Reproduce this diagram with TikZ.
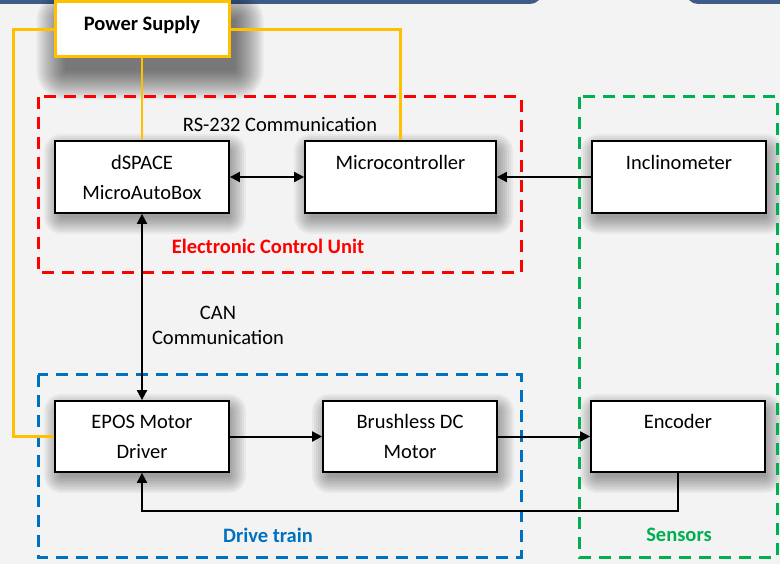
\documentclass[tikz,border=0pt]{standalone}
\usepackage{fontspec}
\setmainfont{Carlito}
\usetikzlibrary{arrows.meta}
\definecolor{psorange}{RGB}{255,192,0}
\definecolor{ecured}{RGB}{255,0,0}
\definecolor{drvblue}{RGB}{0,112,192}
\definecolor{sensgreen}{RGB}{0,176,80}
\definecolor{bandblue}{RGB}{62,92,135}
\definecolor{bggray}{RGB}{243,243,243}
\pgfdeclarelayer{bglayer}
\pgfdeclarelayer{shadowlayer}
\pgfsetlayers{bglayer,shadowlayer,main}
\newcommand\castshadow[4]{%
  \begin{pgfonlayer}{shadowlayer}
  \foreach \rr in {1,3,...,#4}{%
    \fill[black, opacity=0.045, rounded corners=\rr pt]
      ([shift={(#2-\rr+4,#3-\rr+4)}]#1.north west) rectangle ([shift={(#2+\rr-4,#3+\rr-4)}]#1.south east);
  }
  \end{pgfonlayer}}
\tikzset{
  blockbox/.style={draw=black, line width=1.8pt, fill=white, align=center,
    font=\fontsize{20.5}{30}\selectfont, inner sep=0pt},
  psbox/.style={draw=psorange, line width=3pt, fill=white, font=\fontsize{20.5}{25}\selectfont\bfseries,
    inner sep=0pt, text height=15pt, text depth=12pt},
  pwline/.style={draw=psorange, line width=2.6pt},
  arr/.style={draw=black, line width=2pt, -{Triangle[length=10pt,width=10pt]}},
  dblarr/.style={draw=black, line width=2pt, {Triangle[length=10pt,width=10pt]}-{Triangle[length=10pt,width=10pt]}},
  groupbox/.style={line width=3pt, dash pattern=on 12pt off 8pt},
  plaintext/.style={font=\fontsize{20.5}{25}\selectfont, align=center, inner sep=0pt},
  grouptext/.style={font=\fontsize{20.5}{25}\selectfont\bfseries, inner sep=0pt}
}
\begin{document}
\begin{tikzpicture}[x=1pt,y=-1pt]
\useasboundingbox (0,0) rectangle (780,564);
\begin{pgfonlayer}{bglayer}
\fill[bggray] (0,0) rectangle (780,564);
\fill[bandblue, rounded corners=12pt] (-20,-30) rectangle (542,4);
\fill[bandblue, rounded corners=12pt] (686,-30) rectangle (800,4);
\end{pgfonlayer}
% group frames
\draw[groupbox, ecured] (38,97) rectangle (521,273);
\draw[groupbox, sensgreen] (579,97) rectangle (777,557);
\draw[groupbox, drvblue] (38,375) rectangle (521,557);
% blocks
\node[psbox, minimum width=174pt, minimum height=55pt] (ps) at (142,29.5) {Power Supply};
\node[blockbox, minimum width=174pt, minimum height=72pt] (dspace) at (142,177) {dSPACE\\MicroAutoBox};
\node[blockbox, minimum width=191pt, minimum height=72pt] (micro) at (400.5,177) {Microcontroller\\\mbox{}};
\node[blockbox, minimum width=174pt, minimum height=72pt] (incl) at (679,177) {Inclinometer\\\mbox{}};
\node[blockbox, minimum width=174pt, minimum height=71pt] (epos) at (142,436.5) {EPOS Motor\\Driver};
\node[blockbox, minimum width=174pt, minimum height=71pt] (bldc) at (410,436.5) {Brushless DC\\Motor};
\node[blockbox, minimum width=174pt, minimum height=71pt] (enc) at (678,436.5) {Encoder\\\mbox{}};
% shadows
\castshadow{ps}{8}{16}{29}
\castshadow{dspace}{3}{7}{17}
\castshadow{micro}{3}{7}{17}
\castshadow{incl}{3}{7}{17}
\castshadow{epos}{3}{7}{17}
\castshadow{bldc}{3}{7}{17}
\castshadow{enc}{3}{7}{17}
% power lines
\draw[pwline] (ps.west) -- ++(-40,0) |- (epos.west);
\draw[pwline] (ps.south) -- (dspace.north);
\draw[pwline] (ps.east) -| (micro.north);
% signal connectors
\draw[dblarr] (dspace.east) -- (micro.west);
\draw[arr] (incl.west) -- (micro.east);
\draw[dblarr] (dspace.south) -- (epos.north);
\draw[arr] (epos.east) -- (bldc.west);
\draw[arr] (bldc.east) -- (enc.west);
\draw[arr] (enc.south) -- ++(0,38) -| (epos.south);
% labels
\node[plaintext] (rs) at (280,124) {RS-232 Communication};
\node[plaintext] (can) at (218,325) {CAN\\Communication};
\node[grouptext, text=ecured] (ecu) at (268,246) {Electronic Control Unit};
\node[grouptext, text=drvblue] (drv) at (268,535) {Drive train};
\node[grouptext, text=sensgreen] (sens) at (679,535) {Sensors};
\end{tikzpicture}
\end{document}
